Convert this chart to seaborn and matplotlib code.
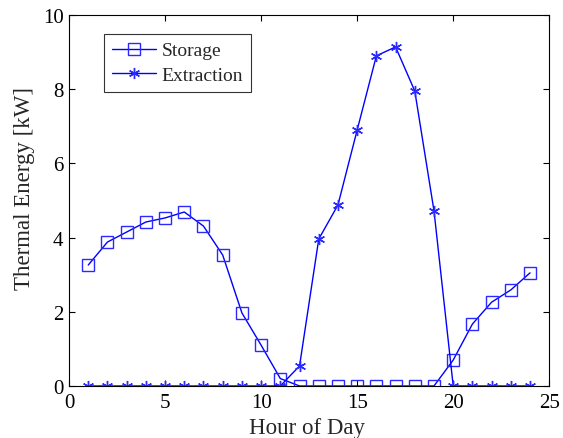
import pandas as pd
import matplotlib
matplotlib.use("Agg")
import matplotlib.pyplot as plt
import seaborn as sns

sns.set_style("ticks")
plt.rcParams['font.family'] = ['Liberation Serif', 'DejaVu Serif']

hours = list(range(1, 25))
storage = [3.26, 3.88, 4.15, 4.42, 4.53, 4.69, 4.31, 3.53, 1.97, 1.10, 0.20, 0,
           0, 0, 0, 0, 0, 0, 0, 0.70, 1.67, 2.26, 2.59, 3.05]
extraction = [0, 0, 0, 0, 0, 0, 0, 0, 0, 0, 0, 0.54,
              3.96, 4.88, 6.90, 8.90, 9.14, 7.95, 4.72, 0, 0, 0, 0, 0]

df = pd.DataFrame({'hour': hours, 'Storage': storage, 'Extraction': extraction})

fig = plt.figure(figsize=(5.63, 4.39), dpi=100)
ax = fig.add_axes([0.1226, 0.1185, 0.853, 0.845])

sns.lineplot(data=df, x='hour', y='Storage', ax=ax, color='#0000ff', lw=1,
             marker='s', markersize=8, markerfacecolor='none',
             markeredgecolor='#2a2aff', markeredgewidth=1, label='Storage')
sns.lineplot(data=df, x='hour', y='Extraction', ax=ax, color='#0000ff', lw=1,
             marker=(6, 2, 0), markersize=8, markeredgecolor='#2a2aff',
             markeredgewidth=1, label='Extraction')

ax.set_xlim(0, 25)
ax.set_ylim(0, 10)
ax.set_xticks([0, 5, 10, 15, 20, 25])
ax.set_yticks([0, 2, 4, 6, 8, 10])
ax.set_xlabel('Hour of Day', fontsize=16.5, va='center')
ax.set_ylabel('Thermal Energy [kW]', fontsize=16.5, va='center')
ax.xaxis.set_label_coords(0.496, -0.112)
ax.yaxis.set_label_coords(-0.092, 0.534)
ax.tick_params(direction='in', top=True, right=True, labelsize=15,
               length=4, width=0.8, colors='black')
ax.tick_params(axis='x', pad=5)
ax.tick_params(axis='y', pad=4)
for s in ax.spines.values():
    s.set_visible(True)
    s.set_color('black')
    s.set_linewidth(0.8)

leg = ax.legend(loc='upper left', bbox_to_anchor=(0.073, 0.949), fontsize=14,
                frameon=True, fancybox=False, edgecolor='black',
                borderpad=0.4, handlelength=2.25, labelspacing=0.35,
                handletextpad=0.3, borderaxespad=0)
leg.get_frame().set_linewidth(0.8)

fig.savefig('out.png', dpi=100)
